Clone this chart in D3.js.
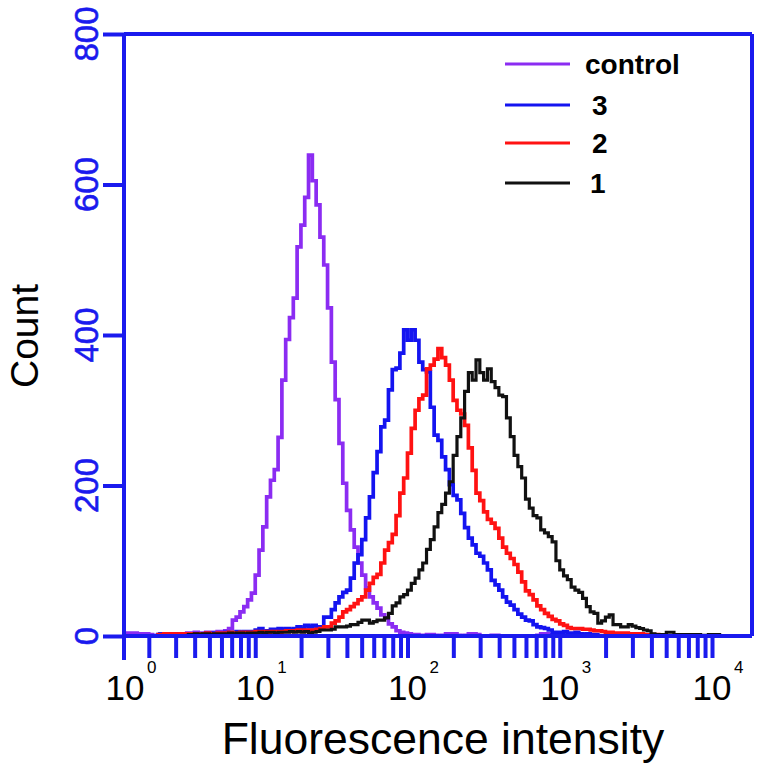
<!DOCTYPE html>
<html><head><meta charset="utf-8">
<script src="https://cdn.jsdelivr.net/npm/d3@7"></script>
<style>body{margin:0;background:#fff} svg{display:block}</style>
</head><body>
<svg id="c" width="767" height="772"></svg>
<script>
// ---------- data ----------
const binWidth = 0.025;            // histogram channel width, in decades
const xDomain = [1.374, 18310];    // fluorescence range shown
const yTicks = [0, 200, 400, 600, 800];
const xMajor = [1, 10, 100, 1000, 10000];
const seriesNames = ["control", "3", "2", "1"];
const seriesColors = ["#8B2CF2", "#1414F0", "#FF1212", "#111111"];

const controlStart = 0.15;  // log10 of first channel
const controlCounts = [4,4,4,3,3,3,2, 0,1,3,3,1,2,2,1, 3,4,4,5,4,4,5,5,5,6,6,7,
  10,21,25,32,39,48,57,81,114,145,185,207,221,264, 340,394,423,449,517,546,583,
  639,605,573,530,493,436,364, 314,256,203,167,141,118,97,81,64,52, 44,37,28,24,16,12,7,5,4,
  3,2,2,1,1,2,2,1,0,1,3,3,3,1,0,1,3,3,2,0, 0,0,1,1,0,0,0,0,0,0,0,0,0,0,1,3,3,2,0];

const s3Start = 0.35;
const s3Counts = [2,3,3,3,2,3,2,3,3,2,3,3,3,4,3,4,3,4, 5,4,5,6,5,6,6,5,8,10,6,7,9,8,10,9,
  10,8,10,12,10,14,12,14,12,12, 25,25,35,44,52,58,61,77,97,108,128,
  157,185,217,245,278,287,327,354,356,376,407, 393,407,393,364,354,351,304,267,260,238,221,
  201,187,181,163,144,130,121,110,106,97,88, 74,68,61,52,45,41,35,29,25,21,20,
  15,12,11,10,8,5,5,4,6,4,3,5,3,2,3,2,2,0];

const s2Start = 0.35;
const s2Counts = [2,2,3,2,3,2,3,3,2,3,3,3,3,4,3,3,4,3,4, 5,4,4,5,4,5,5,6,5,6,5,6,6,5,6,
  7,6,7,8,6,8,7,8,9,10,12,12, 17,20,25,32,35,39,43,48,52,61,70,78,82,
  97,114,124,135,160,190,210,243,276,300,315,320, 355,360,368,382,370,360,340,313,300,295,280,250,
  220,190,180,165,155,150,143,130,118,110,103,95, 85,72,60,55,48,40,35,30,26,22,20,16,14,
  11,10,10,10,9,9,8,7,7,6,5,5,4,4,4,4,3,3,3,3,2,2,2,2,1,1,0];

const s1Start = 0.55;
const s1Counts = [2,2,3,2,3,3,2,3,3,3,3,4,3,4,4,3,4,4,4, 5,4,5,5,4,5,5,5,6,5,6,5,6,4,5,6,
  8,8,8,9,12,12,12,13,15,15,18,21,21, 17,19,21,21,24,30,40,44,52,55,61,70,
  77,88,97,115,128,145,164,175,190,205,240,265, 290,325,350,340,367,350,340,355,338,330,320,318,
  290,265,240,225,210,182,170,160,157,141,137,132,125,100,88,80,75,65,61,58,50,39,32,30,17,
  20,25,28,15,15,12,12,15,13,11,10,8,7,3,2,2,2,5,5,2,2,2,2,2,2,2,1,0,2,2,2,0];

// ---------- chart ----------
const axisColor = "#1a1aee";
const font = "'Liberation Sans', Arial, sans-serif";
const svg = d3.select("#c");
const L = 124, R = 752, T = 34, B = 636;

const x = d3.scaleLog().domain(xDomain).range([L, R]);
const y = d3.scaleLinear().domain([0, 800]).range([B, T]);

const series = [
  {start: controlStart, counts: controlCounts},
  {start: s3Start, counts: s3Counts},
  {start: s2Start, counts: s2Counts},
  {start: s1Start, counts: s1Counts}
];

const line = d3.line().x(d => x(d[0])).y(d => y(d[1])).curve(d3.curveStepAfter);

series.forEach((s, i) => {
  const pts = s.counts.map((c, j) => [Math.pow(10, s.start + j * binWidth), c]);
  pts.push([Math.pow(10, s.start + s.counts.length * binWidth), s.counts[s.counts.length - 1]]);
  svg.append("path").datum(pts).attr("d", line)
    .attr("fill", "none").attr("stroke", seriesColors[i])
    .attr("stroke-width", i === 3 ? 3.2 : 3.7).attr("stroke-linejoin", "miter");
});

// frame
const g = svg.append("g");
g.append("line").attr("x1", L).attr("x2", R).attr("y1", T).attr("y2", T);
g.append("line").attr("x1", R).attr("x2", R).attr("y1", T).attr("y2", B);
g.append("line").attr("x1", L).attr("x2", L).attr("y1", T).attr("y2", B + 24);
g.append("line").attr("x1", L).attr("x2", R).attr("y1", B).attr("y2", B);
g.selectAll("line").attr("stroke", axisColor).attr("stroke-width", 4);

// y axis
const yAxis = d3.axisLeft(y).tickValues(yTicks).tickSize(21).tickFormat("");
const ya = svg.append("g").attr("transform", `translate(${L},0)`).call(yAxis);
ya.select(".domain").remove();
ya.selectAll(".tick line").attr("stroke", axisColor).attr("stroke-width", 4);
yTicks.forEach(v => {
  svg.append("text").attr("transform", `translate(98,${y(v)}) rotate(-90)`)
    .attr("text-anchor", "middle").attr("font-family", font).attr("font-size", 33)
    .attr("fill", axisColor).attr("stroke", axisColor).attr("stroke-width", 0.6).text(v);
});

// x axis ticks
const xTickVals = [];
for (let d = 0; d <= 4; d++) for (let m = 1; m <= 9; m++) {
  const v = m * Math.pow(10, d);
  if (v >= xDomain[0] && v <= xDomain[1]) xTickVals.push(v);
}
const xAxis = d3.axisBottom(x).tickValues(xTickVals).tickSize(22).tickFormat("");
const xa = svg.append("g").attr("transform", `translate(0,${B})`).call(xAxis);
xa.select(".domain").remove();
xa.selectAll(".tick line").attr("stroke", axisColor).attr("stroke-width", 4);

xMajor.forEach((v, i) => {
  const cx = Math.max(x(v), 125);
  svg.append("text").attr("x", cx).attr("y", 700).attr("text-anchor", "middle")
    .attr("font-family", font).attr("font-size", 35).attr("fill", "#000").text("10");
  svg.append("text").attr("x", cx + 22).attr("y", 673).attr("text-anchor", "start")
    .attr("font-family", font).attr("font-size", 17).attr("fill", "#000").text(i);
});

// axis titles
svg.append("text").attr("x", 443).attr("y", 754).attr("text-anchor", "middle")
  .attr("font-family", font).attr("font-size", 44.5).attr("fill", "#000").text("Fluorescence intensity");
svg.append("text").attr("transform", "translate(38,336) rotate(-90)").attr("text-anchor", "middle")
  .attr("font-family", font).attr("font-size", 39).attr("fill", "#000").text("Count");

// legend
const legY = [64, 105, 143, 183];
const legTextX = [585, 592, 592, 590];
seriesNames.forEach((n, i) => {
  svg.append("line").attr("x1", 505).attr("x2", 570).attr("y1", legY[i]).attr("y2", legY[i])
    .attr("stroke", seriesColors[i]).attr("stroke-width", 3.2);
  svg.append("text").attr("x", legTextX[i]).attr("y", legY[i] + 10)
    .attr("font-family", font).attr("font-weight", "bold").attr("font-size", 28)
    .attr("fill", "#000").text(n);
});
</script>
</body></html>
